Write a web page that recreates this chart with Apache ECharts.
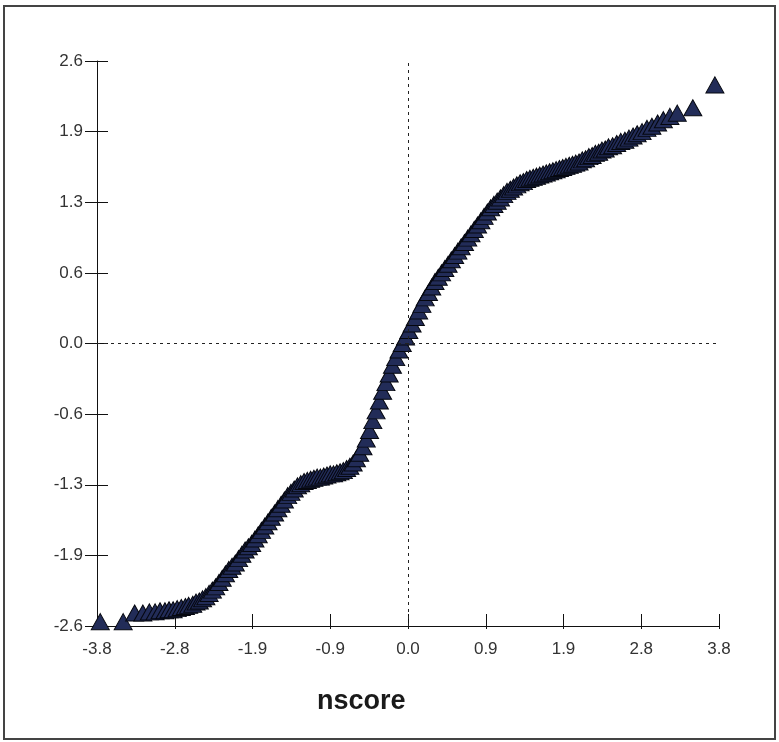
<!DOCTYPE html>
<html>
<head>
<meta charset="utf-8">
<script src="https://cdn.jsdelivr.net/npm/echarts@6/dist/echarts.min.js"></script>
<style>
  html, body { margin: 0; padding: 0; background: #fff; }
  #main { width: 779px; height: 742px; }
</style>
</head>
<body>
<div id="main"></div>
<script>
// normal scores (x) and data values (y)
var nscore = [
  -3.76, -3.48, -3.34, -3.24, -3.16, -3.09, -3.03, -2.97, -2.92, -2.87,
  -2.82, -2.77, -2.72, -2.68, -2.63, -2.59, -2.55, -2.51, -2.47, -2.43,
  -2.39, -2.35, -2.31, -2.27, -2.23, -2.19, -2.15, -2.11, -2.07, -2.03,
  -1.99, -1.95, -1.91, -1.87, -1.83, -1.79, -1.75, -1.71, -1.67, -1.63,
  -1.59, -1.55, -1.51, -1.47, -1.43, -1.39, -1.35, -1.31, -1.27, -1.23,
  -1.19, -1.15, -1.11, -1.07, -1.03, -0.99, -0.95, -0.91, -0.87, -0.83,
  -0.79, -0.75, -0.71, -0.67, -0.63, -0.59, -0.55, -0.51, -0.47, -0.43,
  -0.39, -0.35, -0.31, -0.27, -0.23, -0.19, -0.15, -0.11, -0.07, -0.03,
  0.01, 0.05, 0.09, 0.13, 0.17, 0.21, 0.25, 0.29, 0.33, 0.37,
  0.41, 0.45, 0.49, 0.53, 0.57, 0.61, 0.65, 0.69, 0.73, 0.77,
  0.81, 0.85, 0.89, 0.93, 0.97, 1.01, 1.05, 1.09, 1.13, 1.17,
  1.21, 1.25, 1.29, 1.33, 1.37, 1.41, 1.45, 1.49, 1.53, 1.57,
  1.61, 1.65, 1.69, 1.73, 1.77, 1.81, 1.85, 1.89, 1.93, 1.97,
  2.01, 2.05, 2.09, 2.13, 2.17, 2.21, 2.25, 2.29, 2.33, 2.37,
  2.41, 2.45, 2.50, 2.55, 2.60, 2.65, 2.70, 2.75, 2.80, 2.86,
  2.92, 2.98, 3.05, 3.12, 3.20, 3.29, 3.48, 3.75
];
var values = [
  -2.56, -2.56, -2.48, -2.48, -2.47, -2.47, -2.46, -2.46, -2.45, -2.45,
  -2.44, -2.43, -2.42, -2.41, -2.40, -2.38, -2.37, -2.35, -2.33, -2.30,
  -2.27, -2.24, -2.20, -2.16, -2.12, -2.08, -2.05, -2.02, -1.98, -1.94,
  -1.90, -1.87, -1.84, -1.80, -1.76, -1.72, -1.68, -1.64, -1.60, -1.56,
  -1.52, -1.48, -1.44, -1.40, -1.37, -1.34, -1.31, -1.29, -1.27, -1.26,
  -1.25, -1.24, -1.23, -1.23, -1.22, -1.21, -1.20, -1.20, -1.19, -1.18,
  -1.17, -1.15, -1.13, -1.10, -1.06, -1.01, -0.95, -0.88, -0.80, -0.71,
  -0.62, -0.53, -0.44, -0.36, -0.28, -0.20, -0.13, -0.06, 0.00, 0.06,
  0.12, 0.18, 0.24, 0.30, 0.36, 0.42, 0.47, 0.52, 0.57, 0.61,
  0.65, 0.69, 0.73, 0.77, 0.81, 0.85, 0.89, 0.93, 0.97, 1.01,
  1.05, 1.09, 1.13, 1.17, 1.21, 1.25, 1.28, 1.31, 1.34, 1.37,
  1.40, 1.42, 1.44, 1.46, 1.48, 1.49, 1.51, 1.52, 1.53, 1.54,
  1.55, 1.56, 1.57, 1.58, 1.59, 1.60, 1.61, 1.62, 1.63, 1.64,
  1.65, 1.66, 1.67, 1.69, 1.70, 1.72, 1.73, 1.75, 1.76, 1.78,
  1.79, 1.81, 1.82, 1.84, 1.86, 1.87, 1.89, 1.91, 1.93, 1.95,
  1.98, 2.00, 2.03, 2.06, 2.09, 2.12, 2.17, 2.38
];
var xTickLabels = ['-3.8', '-2.8', '-1.9', '-0.9', '0.0', '0.9', '1.9', '2.8', '3.8'];
var yTickLabels = ['-2.6', '-1.9', '-1.3', '-0.6', '0.0', '0.6', '1.3', '1.9', '2.6'];

var points = nscore.map(function (x, i) { return [x, values[i]]; });

var myChart = echarts.init(document.getElementById('main'));

var labelFont = {
    fontFamily: 'Liberation Sans, Arial, sans-serif',
    fontSize: 17,
    color: '#333'
};

function xAxisDef(inside, showLabel) {
    return {
        type: 'value',
        position: 'bottom',
        min: -3.8,
        max: 3.8,
        interval: 0.95,
        splitLine: { show: false },
        axisLine: { show: !inside, onZero: false, lineStyle: { color: '#111', width: 1 } },
        axisTick: { show: true, inside: inside, length: inside ? 12 : 3, lineStyle: { color: '#111' } },
        axisLabel: Object.assign({
            show: showLabel,
            margin: 15,
            formatter: function (v) { return xTickLabels[Math.round((v + 3.8) / 0.95)]; }
        }, labelFont)
    };
}

function yAxisDef(inside, showLabel) {
    return {
        type: 'value',
        position: 'left',
        min: -2.6,
        max: 2.6,
        interval: 0.65,
        splitLine: { show: false },
        axisLine: { show: !inside, onZero: false, lineStyle: { color: '#111', width: 1 } },
        axisTick: { show: true, inside: inside, length: inside ? 11 : 12, lineStyle: { color: '#111' } },
        axisLabel: Object.assign({
            show: showLabel,
            margin: 14,
            formatter: function (v) { return yTickLabels[Math.round((v + 2.6) / 0.65)]; }
        }, labelFont)
    };
}

myChart.setOption({
    backgroundColor: '#fff',
    animation: false,
    grid: { left: 97, right: 60, top: 61, bottom: 116, containLabel: false },
    graphic: [
        {
            type: 'rect',
            shape: { x: 4, y: 6, width: 771, height: 733 },
            style: { fill: 'none', stroke: '#444', lineWidth: 2 },
            silent: true
        },
        {
            type: 'text',
            left: 317,
            top: 688,
            style: {
                text: 'nscore',
                font: 'bold 27px "Liberation Sans", Arial, sans-serif',
                fill: '#1a1a1a'
            }
        }
    ],
    xAxis: [xAxisDef(false, true), xAxisDef(true, false)],
    yAxis: [yAxisDef(false, true), yAxisDef(true, false)],
    series: [
        {
            type: 'scatter',
            xAxisIndex: 0,
            yAxisIndex: 0,
            data: points,
            symbol: 'triangle',
            symbolSize: [18, 16],
            itemStyle: { color: '#222c58', borderColor: '#05070f', borderWidth: 1, opacity: 1 },
            markLine: {
                silent: true,
                symbol: 'none',
                label: { show: false },
                lineStyle: { color: '#222', width: 1, type: [3, 4] },
                data: [{ xAxis: 0 }, { yAxis: 0 }]
            },
            z: 3
        }
    ]
});
</script>
</body>
</html>
